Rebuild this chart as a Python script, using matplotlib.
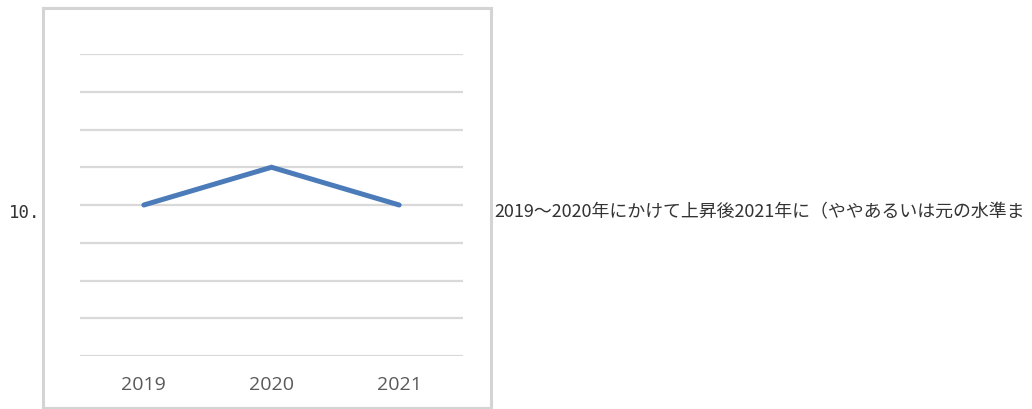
import matplotlib
matplotlib.use("Agg")
import matplotlib.pyplot as plt
from matplotlib.patches import Rectangle

years = ["2019", "2020", "2021"]
values = [4, 5, 4]
grid_levels = list(range(0, 9))
prefix_label = "10."
caption = "2019～2020年にかけて上昇後2021年に（ややあるいは元の水準ま"

W, H = 1032, 410
fig = plt.figure(figsize=(W / 100, H / 100), dpi=100)
fig.patch.set_facecolor("white")

# outer chart frame
fig.patches.append(Rectangle((43 / W, 1 - 409 / H), (491 - 43) / W, (409 - 9) / H,
                             transform=fig.transFigure, fill=False,
                             edgecolor="#d4d4d4", linewidth=2.2))

ax = fig.add_axes([80 / W, 1 - 357 / H, (463 - 80) / W, (357 - 55) / H])
ax.set_xlim(0, 3)
ax.set_ylim(0, 8)
for g in grid_levels:
    ax.axhline(g, color="#d9d9d9", linewidth=1.6, zorder=1)
xs = [i + 0.5 for i in range(len(years))]
ax.plot(xs, values, color="#4c7bb9", linewidth=3.6, solid_capstyle="round",
        solid_joinstyle="miter", zorder=3)
ax.set_xticks(xs)
ax.set_xticklabels(years, fontsize=14, color="#595959", family="Open Sans")
ax.tick_params(axis="x", length=0, pad=14)
ax.set_yticks([])
for s in ax.spines.values():
    s.set_visible(False)
ax.patch.set_alpha(0)

fig.text(9 / W, 1 - 213 / H, prefix_label, fontsize=12.5, color="#333333",
         family="DejaVu Sans Mono", va="center", ha="left")
fig.text(494 / W, 1 - 212 / H, caption, fontsize=12.9, color="#333333",
         family=["Noto Sans CJK JP", "DejaVu Sans"], va="center", ha="left")

fig.savefig("out.png", dpi=100, facecolor="white")
